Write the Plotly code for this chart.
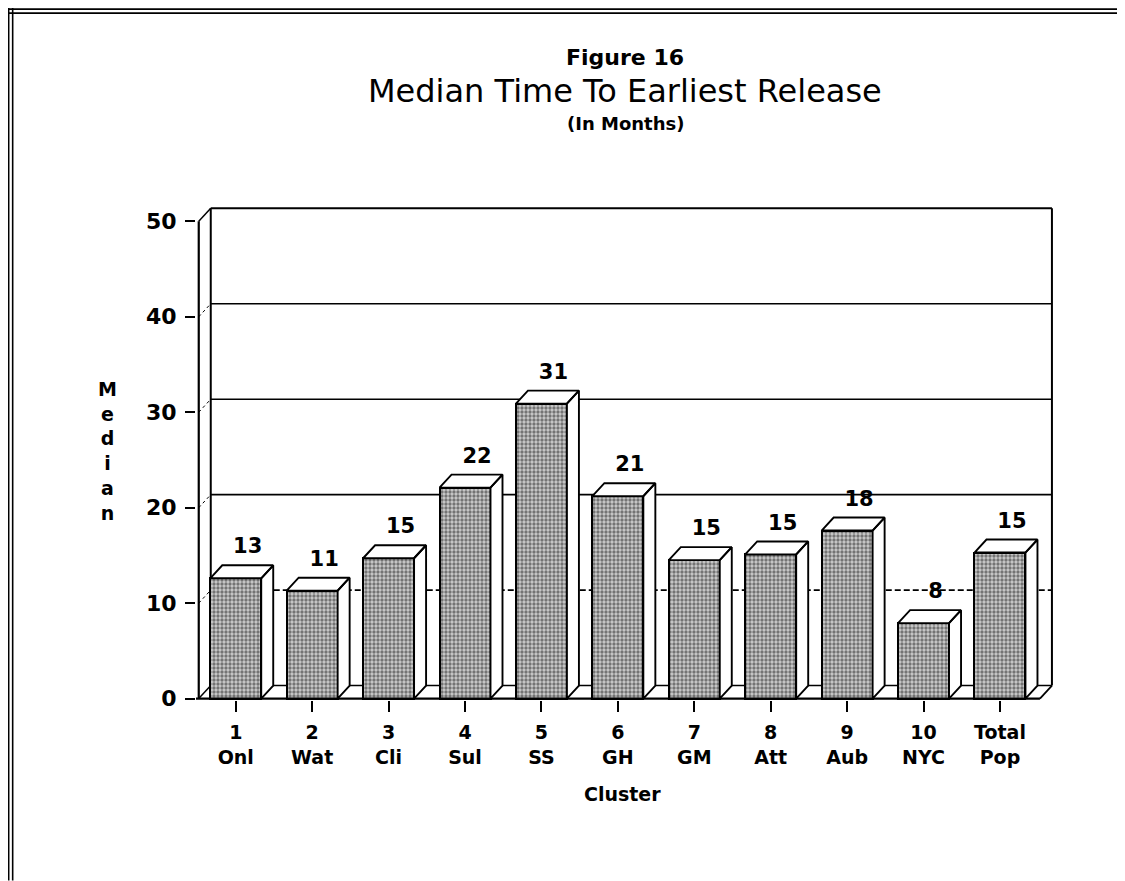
import plotly.graph_objects as go

# ---------------- data ----------------
cluster_codes = ["1", "2", "3", "4", "5", "6", "7", "8", "9", "10", "Total"]
cluster_names = ["Onl", "Wat", "Cli", "Sul", "SS", "GH", "GM", "Att", "Aub", "NYC", "Pop"]
median_months = [12.6, 11.3, 14.7, 22.1, 30.9, 21.2, 14.5, 15.1, 17.6, 7.9, 15.3]
value_labels = ["13", "11", "15", "22", "31", "21", "15", "15", "18", "8", "15"]
y_tick_values = [0, 10, 20, 30, 40, 50]

# ---------------- geometry / style ----------------
W, H = 1125, 881          # window (reference) size
OFF = 8                   # page body margin
FW, FH = W - OFF, H - OFF  # figure size
UX = 76.4            # px per category unit
UY = 9.553           # px per month
X_MIN, X_MAX = -0.52, 10.72
Y_MIN, Y_MAX = -0.15, 51.6
ML = 236 + X_MIN * UX          # reference px of plot left
PW = (X_MAX - X_MIN) * UX
PB = 699 + (-Y_MIN) * UY       # reference px of plot bottom
PH = (Y_MAX - Y_MIN) * UY
MT = PB - PH
ML_F = ML - OFF
MT_F = MT - OFF
MR_F = FW - ML_F - PW
MB_F = FH - MT_F - PH

BW = 0.667           # bar width (category units)
DX = 12 / UX         # depth offset x
DY = 13 / UY         # depth offset y
X0 = -0.484          # front-left corner
XB = 10.68           # back-right
XF = XB - DX         # front-right

BOLD = dict(family="DejaVu Sans", color="black", weight="bold")


def pxx(px):
    return (px - ML) / PW


def pxy(py):
    return (PB - py) / PH


xpos = list(range(len(cluster_codes)))
ticktext = [f"{c}<br>{n}" for c, n in zip(cluster_codes, cluster_names)]

fig = go.Figure()

# front faces
fig.add_trace(go.Bar(
    x=xpos, y=median_months, width=BW,
    marker=dict(color="#c4c4c4",
                line=dict(color="black", width=2),
                pattern=dict(shape=".", fgcolor="#1a1a1a", bgcolor="#cccccc",
                             size=4, solidity=0.55)),
    hoverinfo="skip", showlegend=False))

# top and side faces
fx, fy = [], []
for i, v in zip(xpos, median_months):
    xl, xr = i - BW / 2, i + BW / 2
    fx += [xl, xl + DX, xr + DX, xr, xl, None]
    fy += [v, v + DY, v + DY, v, v, None]
    fx += [xr, xr, xr + DX, xr + DX, xr, None]
    fy += [0, v, v + DY, DY, 0, None]
fig.add_trace(go.Scatter(x=fx, y=fy, mode="lines", fill="toself",
                         fillcolor="white", line=dict(color="black", width=1.9),
                         hoverinfo="skip", showlegend=False))

# value labels
fig.add_trace(go.Scatter(
    x=[i + DX for i in xpos], y=[v + DY + 1.8 for v in median_months],
    mode="text", text=value_labels, textposition="middle center",
    textfont=dict(size=21, **BOLD), cliponaxis=False,
    hoverinfo="skip", showlegend=False))

shapes = []


def seg(x0, y0, x1, y1, width=2, dash="solid", layer="below"):
    shapes.append(dict(type="line", xref="x", yref="y", x0=x0, y0=y0, x1=x1, y1=y1,
                       line=dict(color="black", width=width, dash=dash), layer=layer))


# back wall
seg(X0 + DX, DY, X0 + DX, 50 + DY)
seg(X0 + DX, 50 + DY, XB, 50 + DY)
seg(XB, DY, XB, 50 + DY)
seg(X0 + DX, DY, XB, DY, width=1.5)
# left wall
seg(X0, 0, X0, 50, width=2.2, layer="above")
seg(X0, 50, X0 + DX, 50 + DY, width=1.5)
seg(X0, 0, X0 + DX, DY, width=1.5)
# gridlines on back wall
for v in y_tick_values[1:-1]:
    seg(X0 + DX, v + DY, XB, v + DY, width=1.6,
        dash="6px,3px" if v == 10 else "solid")
    seg(X0, v, X0 + DX, v + DY, width=1, dash="dot")
# floor front
seg(X0 - 0.15, 0, XF, 0, width=2.2, layer="above")
seg(XF, 0, XB, DY, width=1.8, layer="above")

# page border (double lines top / left)
for px in (9, 13):
    shapes.append(dict(type="line", xref="paper", yref="paper",
                       x0=pxx(px), x1=pxx(px), y0=pxy(OFF), y1=pxy(H),
                       line=dict(color="black", width=1.6)))
for py in (9, 13):
    shapes.append(dict(type="line", xref="paper", yref="paper",
                       x0=pxx(9), x1=pxx(W), y0=pxy(py), y1=pxy(py),
                       line=dict(color="black", width=1.6)))

annotations = [
    dict(text="Figure 16", x=pxx(625), y=pxy(57), xref="paper", yref="paper",
         showarrow=False, xanchor="center", yanchor="middle",
         font=dict(size=22, **BOLD)),
    dict(text="Median Time To Earliest Release", x=pxx(625), y=pxy(91),
         xref="paper", yref="paper", showarrow=False, xanchor="center",
         yanchor="middle", font=dict(size=32, family="DejaVu Sans", color="black")),
    dict(text="(In Months)", x=pxx(626), y=pxy(124), xref="paper", yref="paper",
         showarrow=False, xanchor="center", yanchor="middle",
         font=dict(size=18, **BOLD)),
    dict(text="M<br>e<br>d<br>i<br>a<br>n", x=pxx(108), y=pxy(451),
         xref="paper", yref="paper", showarrow=False, xanchor="center",
         yanchor="middle", font=dict(size=19, **BOLD)),
    dict(text="Cluster", x=pxx(623), y=pxy(795), xref="paper", yref="paper",
         showarrow=False, xanchor="center", yanchor="middle",
         font=dict(size=19, **BOLD)),
]

fig.update_layout(
    width=FW, height=FH,
    margin=dict(l=ML_F, r=MR_F, t=MT_F, b=MB_F, pad=0),
    paper_bgcolor="white", plot_bgcolor="rgba(0,0,0,0)",
    shapes=shapes, annotations=annotations,
    bargap=0, showlegend=False,
    xaxis=dict(range=[X_MIN, X_MAX], tickvals=xpos, ticktext=ticktext,
               ticks="outside", ticklen=11, tickwidth=2, tickcolor="black",
               showgrid=False, zeroline=False, showline=False,
               tickfont=dict(size=19, **BOLD), ticklabelstandoff=4),
    yaxis=dict(range=[Y_MIN, Y_MAX], tickvals=y_tick_values,
               ticks="outside", ticklen=10, tickwidth=2, tickcolor="black",
               showgrid=False, zeroline=False, showline=False,
               tickfont=dict(size=22, **BOLD), ticklabelstandoff=4),
)

fig.write_html("out.html")
